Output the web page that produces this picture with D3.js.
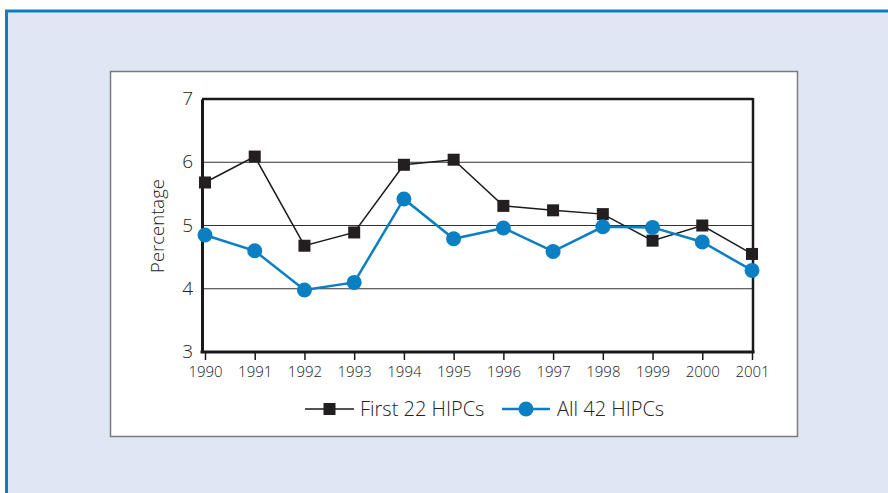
<!DOCTYPE html>
<html><head><meta charset="utf-8">
<script src="https://cdn.jsdelivr.net/npm/d3@7"></script>
<style>body{margin:0;background:#fff;}svg{display:block;}</style>
</head><body>
<svg id="c" width="888" height="493"></svg>
<script>
const years = ["1990","1991","1992","1993","1994","1995","1996","1997","1998","1999","2000","2001"];
const first22 = [5.68,6.09,4.68,4.89,5.96,6.04,5.31,5.24,5.18,4.76,5.00,4.55];
const all42 = [4.85,4.60,3.98,4.10,5.42,4.79,4.96,4.59,4.98,4.97,4.74,4.29];
const yTicks = [3,4,5,6,7];
const seriesNames = ["First 22 HIPCs","All 42 HIPCs"];

const svg = d3.select("#c");
const font = "'Open Sans', 'DejaVu Sans', sans-serif";
const txt = "#222";
// outer panel
svg.append("rect").attr("x",6.5).attr("y",11).attr("width",900).attr("height",500)
  .attr("fill","#e0e7f4").attr("stroke","#0a7fc4").attr("stroke-width",3);
// white chart box
svg.append("rect").attr("x",110.5).attr("y",71.5).attr("width",687).attr("height",365)
  .attr("fill","#fff").attr("stroke","#7a7a80").attr("stroke-width",1.5);

const x = d3.scalePoint().domain(years).range([205,752]);
const y = d3.scaleLinear().domain([3,7]).range([352,99]);

// gridlines
svg.append("g").selectAll("line").data([4,5,6]).join("line")
  .attr("x1",202).attr("x2",753).attr("y1",d=>y(d)).attr("y2",d=>y(d))
  .attr("stroke","#333").attr("stroke-width",1);

// frame
svg.append("line").attr("x1",202).attr("x2",753).attr("y1",y(7)).attr("y2",y(7)).attr("stroke","#1a1a1a").attr("stroke-width",2.5);
svg.append("line").attr("x1",753).attr("x2",753).attr("y1",y(7)-1).attr("y2",y(3)+1).attr("stroke","#1a1a1a").attr("stroke-width",2.5);

// y axis
const yAxis = svg.append("g").attr("transform","translate(202,0)")
  .call(d3.axisLeft(y).tickValues(yTicks).tickSize(0).tickPadding(9).tickFormat(d3.format("d")));
yAxis.select(".domain").attr("stroke","#1a1a1a").attr("stroke-width",3);
yAxis.selectAll("text").attr("font-family",font).attr("font-size",19).attr("font-weight",300).attr("fill",txt).attr("dy","0.3em");

// x axis
const xAxis = svg.append("g").attr("transform",`translate(0,${y(3)})`)
  .call(d3.axisBottom(x).tickSize(8).tickPadding(6));
xAxis.select(".domain").attr("d","M200.5,0H754.5").attr("stroke","#1a1a1a").attr("stroke-width",3);
xAxis.selectAll(".tick line").attr("stroke","#1a1a1a").attr("stroke-width",1.5);
xAxis.selectAll("text").attr("font-family",font).attr("font-size",15).attr("font-weight",300).attr("fill",txt);

// y label
svg.append("text").attr("transform","translate(164,226) rotate(-90)").attr("text-anchor","middle")
  .attr("font-family",font).attr("font-size",18.5).attr("font-weight",300).attr("fill",txt).text("Percentage");

const line = d3.line().x((d,i)=>x(years[i])).y(d=>y(d));
// first 22
svg.append("path").datum(first22).attr("d",line).attr("fill","none").attr("stroke","#1a1a1a").attr("stroke-width",1.5);
svg.append("g").selectAll("rect").data(first22).join("rect")
  .attr("x",(d,i)=>x(years[i])-6).attr("y",d=>y(d)-6).attr("width",12).attr("height",12).attr("fill","#231f20");
// all 42
svg.append("path").datum(all42).attr("d",line).attr("fill","none").attr("stroke","#0a7fc4").attr("stroke-width",2.5);
svg.append("g").selectAll("circle").data(all42).join("circle")
  .attr("cx",(d,i)=>x(years[i])).attr("cy",d=>y(d)).attr("r",7.5).attr("fill","#0a7fc4");

// legend
const ly = 409;
svg.append("line").attr("x1",305).attr("x2",354).attr("y1",ly).attr("y2",ly).attr("stroke","#1a1a1a").attr("stroke-width",1.5);
svg.append("rect").attr("x",323.5).attr("y",ly-6).attr("width",12).attr("height",12).attr("fill","#231f20");
svg.append("text").attr("x",360).attr("y",ly+7).attr("font-family",font).attr("font-size",20).attr("font-weight",300).attr("fill",txt).text(seriesNames[0]);
svg.append("line").attr("x1",502).attr("x2",550).attr("y1",ly).attr("y2",ly).attr("stroke","#0a7fc4").attr("stroke-width",2.5);
svg.append("circle").attr("cx",526).attr("cy",ly).attr("r",7.5).attr("fill","#0a7fc4");
svg.append("text").attr("x",557).attr("y",ly+7).attr("font-family",font).attr("font-size",20).attr("font-weight",300).attr("fill",txt).text(seriesNames[1]);
</script>
</body></html>
